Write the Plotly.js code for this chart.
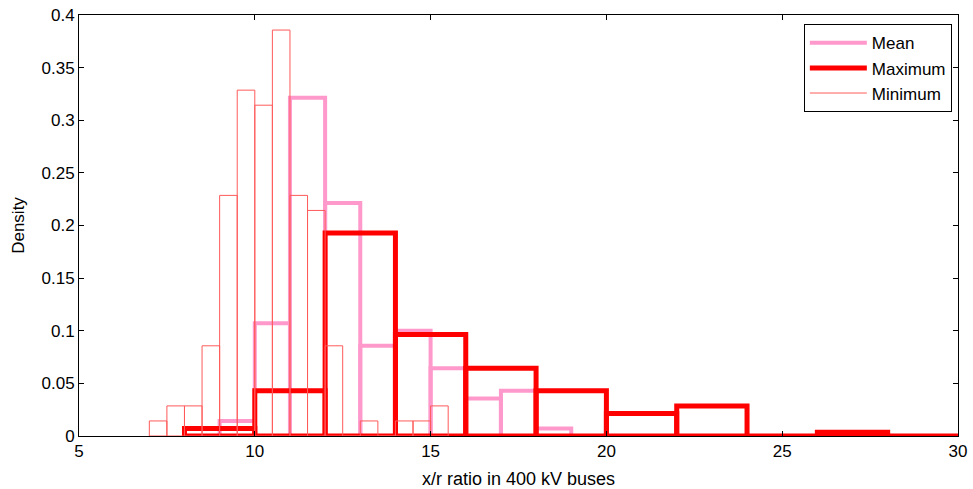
<!DOCTYPE html>
<html>
<head>
<meta charset="utf-8">
<script src="https://cdn.plot.ly/plotly-3.0.1.min.js"></script>
<style>html,body{margin:0;padding:0;background:#fff;}#chart{width:973px;height:489px;}</style>
</head>
<body>
<div id="chart"></div>
<script>
// Mean x/r ratio histogram (bin width 1)
const meanLeft = [9, 10, 11, 12, 13, 14, 15, 16, 17, 18];
const meanDensity = [0.0143, 0.1071, 0.3214, 0.2214, 0.0857, 0.1000, 0.0643, 0.0357, 0.0429, 0.0071];
const meanWidth = 1;

// Maximum x/r ratio histogram (bin width 2)
const maxLeft = [8, 10, 12, 14, 16, 18, 20, 22, 24, 26, 28];
const maxDensity = [0.0071, 0.0429, 0.1929, 0.0964, 0.0643, 0.0429, 0.0214, 0.0286, 0, 0.0036, 0];
const maxWidth = 2;

// Minimum x/r ratio histogram (bin width 0.5)
const minLeft = [7, 7.5, 8, 8.5, 9, 9.5, 10, 10.5, 11, 11.5, 12, 12.5, 13, 13.5, 14, 14.5, 15];
const minDensity = [0.0143, 0.0286, 0.0286, 0.0857, 0.2286, 0.3286, 0.3143, 0.3857, 0.2286, 0.2143, 0.0857, 0, 0.0143, 0, 0.0143, 0.0143, 0.0286];
const minWidth = 0.5;

const xTicks = [5, 10, 15, 20, 25, 30];
const yTicks = [0, 0.05, 0.1, 0.15, 0.2, 0.25, 0.3, 0.35, 0.4];

function outline(lefts, vals, w) {
  const xs = [], ys = [];
  for (let i = 0; i < lefts.length; i++) {
    const x0 = lefts[i], x1 = lefts[i] + w, v = vals[i];
    xs.push(x0, x0, x1, x1, x0, null);
    ys.push(0, v, v, 0, 0, null);
  }
  return {x: xs, y: ys};
}

const mO = outline(meanLeft, meanDensity, meanWidth);
const xO = outline(maxLeft, maxDensity, maxWidth);
const nO = outline(minLeft, minDensity, minWidth);

const traces = [
  {type: 'scatter', mode: 'lines', name: 'Mean', x: mO.x, y: mO.y,
   line: {color: '#ff99cc', width: 4}, connectgaps: false, hoverinfo: 'skip'},
  {type: 'scatter', mode: 'lines', name: 'Maximum', x: xO.x, y: xO.y,
   line: {color: '#ff0000', width: 5}, connectgaps: false, hoverinfo: 'skip'},
  {type: 'scatter', mode: 'lines', name: 'Minimum', x: nO.x, y: nO.y,
   line: {color: '#ff5a5a', width: 1}, connectgaps: false, hoverinfo: 'skip'}
];

const fontFam = '"Liberation Sans", Arial, sans-serif';
const layout = {
  width: 973, height: 489,
  margin: {l: 79, r: 15, t: 15, b: 53},
  paper_bgcolor: '#fff', plot_bgcolor: '#fff',
  font: {family: fontFam, size: 17, color: '#000'},
  showlegend: true,
  legend: {
    x: 0.993, y: 0.978, xanchor: 'right', yanchor: 'top',
    bordercolor: '#000', borderwidth: 1, bgcolor: '#fff',
    font: {family: fontFam, size: 17, color: '#000'},
    tracegroupgap: 0, itemwidth: 57
  },
  xaxis: {
    range: [5, 30], tickvals: xTicks, ticktext: xTicks.map(String),
    showgrid: false, zeroline: false,
    showline: true, linecolor: '#000', linewidth: 1, mirror: 'ticks',
    ticks: 'inside', ticklen: 5, tickcolor: '#000',
    tickfont: {family: fontFam, size: 17, color: '#000'},
    title: {text: 'x/r ratio in 400 kV buses', font: {family: fontFam, size: 18, color: '#000'}, standoff: 11}
  },
  yaxis: {
    range: [0, 0.4], tickvals: yTicks, ticktext: yTicks.map(String),
    showgrid: false, zeroline: false,
    showline: true, linecolor: '#000', linewidth: 1, mirror: 'ticks',
    ticks: 'inside', ticklen: 5, tickcolor: '#000',
    tickfont: {family: fontFam, size: 17, color: '#000'},
    title: {text: 'Density', font: {family: fontFam, size: 17, color: '#000'}, standoff: 12}
  }
};

Plotly.newPlot('chart', traces, layout, {staticPlot: true, displayModeBar: false});
</script>
</body>
</html>
